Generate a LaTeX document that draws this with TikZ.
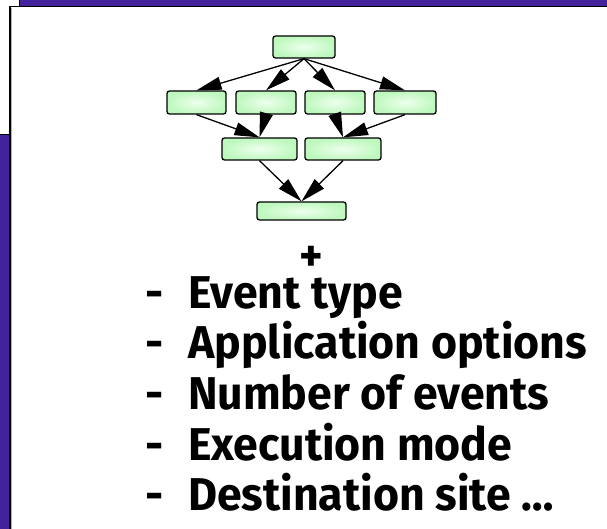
\documentclass[tikz,border=0pt]{standalone}
\usepackage{fontspec}
\setmainfont[FakeStretch=0.97]{Fira Sans}
\usetikzlibrary{arrows.meta}
\definecolor{slidebg}{RGB}{66,35,155}
\definecolor{boxouter}{RGB}{190,248,190}
\definecolor{boxinner}{RGB}{238,255,238}
\tikzset{
  task/.style={draw=black, line width=1.3pt, rounded corners=2.5pt, inner sep=0pt,
    shade, inner color=boxinner, outer color=boxouter},
  dep/.style={line width=1.3pt, -{Triangle[length=25pt,width=13pt]}},
  item/.style={anchor=base west, inner sep=0pt, font=\fontsize{46}{50}\selectfont\bfseries},
}
\begin{document}
\begin{tikzpicture}[x=1pt,y=-1pt]
\useasboundingbox (0,0) rectangle (607,529);
\clip (0,0) rectangle (607,529);
% slide background and panels
\fill[slidebg] (0,0) rectangle (607,529);
\filldraw[fill=white, draw=black, line width=1pt] (-5,-5) rectangle (19,135);
\filldraw[fill=white, draw=black, line width=1.4pt] (10,6.5) rectangle (620,540);
\draw[gray!60, line width=0.8pt] (11.8,8) -- (11.8,540);

% workflow graph
\node[task, minimum width=62pt, minimum height=22pt] (t) at (304,47) {};
\node[task, minimum width=59pt, minimum height=23pt] (a) at (196.5,102.5) {};
\node[task, minimum width=60pt, minimum height=23pt] (b) at (266,102.5) {};
\node[task, minimum width=60pt, minimum height=23pt] (c) at (335,102.5) {};
\node[task, minimum width=62pt, minimum height=23pt] (d) at (405,102.5) {};
\node[task, minimum width=75pt, minimum height=22pt] (e) at (259.5,149) {};
\node[task, minimum width=76pt, minimum height=22pt] (f) at (343,149) {};
\node[task, minimum width=89pt, minimum height=18pt] (g) at (301.5,211) {};

\draw[dep] (t.south) -- (a.north);
\draw[dep] (t.south) -- (b.north);
\draw[dep] (t.south) -- (c.north);
\draw[dep] (t.south) -- (d.north);
\draw[dep] (a.south) -- (e.north);
\draw[dep] (b.south) -- (e.north);
\draw[dep] (c.south) -- (f.north);
\draw[dep] (d.south) -- (f.north);
\draw[dep] (e.south) -- (g.north);
\draw[dep] (f.south) -- (g.north);

% parameter list
\node[item, anchor=base] (plus) at (311,271) {\smash{+}};
\node[item] (l1) at (145,308) {\makebox[43pt][l]{-}Event type};
\node[item] (l2) at (145,358) {\makebox[43pt][l]{-}Application options};
\node[item] (l3) at (145,409) {\makebox[43pt][l]{-}Number of events};
\node[item] (l4) at (145,460) {\makebox[43pt][l]{-}Execution mode};
\node[item] (l5) at (145,510) {\makebox[43pt][l]{-}Destination site …};
\end{tikzpicture}
\end{document}
